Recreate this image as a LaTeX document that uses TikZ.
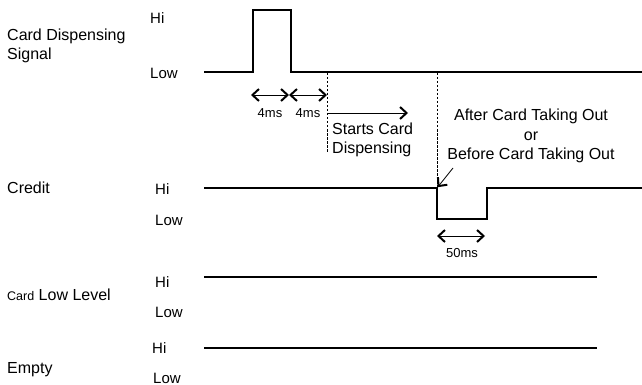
\documentclass[tikz,border=0pt]{standalone}
\usepackage{fontspec}
\setmainfont{Liberation Sans}
\usetikzlibrary{arrows.meta,positioning}
\tikzset{
  wave/.style={line width=1.5pt},
  guide/.style={line width=0.8pt, dash pattern=on 2.5pt off 1.5pt},
  span/.style={line width=0.8pt,
    {Straight Barb[length=6.5pt,width=12pt,line width=2pt]}-{Straight Barb[length=6.5pt,width=12pt,line width=2pt]}},
  push/.style={line width=0.8pt, -{Straight Barb[length=6.5pt,width=12pt,line width=2pt]}},
  signame/.style={anchor=west, inner sep=0pt, align=left, font=\fontsize{16}{18.5}\selectfont},
  lvl/.style={anchor=west, inner sep=0pt, font=\fontsize{15}{17}\selectfont},
  note/.style={inner sep=0pt, font=\fontsize{16}{19.5}\selectfont},
  tlabel/.style={inner sep=0pt, font=\fontsize{13}{15}\selectfont},
}
\begin{document}
\begin{tikzpicture}[x=1pt,y=-1pt]
    \useasboundingbox (0,0) rectangle (642,385);

    % signal names
    \node[signame] (cdname) at (7,46) {Card Dispensing\\Signal};
    \node[signame] (crname) at (7,188) {Credit};
    \node[signame] (clname) at (7,295) {{\fontsize{12.5}{14}\selectfont Card} Low Level};
    \node[signame] (emname) at (7,370) {Empty};

    % levels
    \node[lvl] (cdhi) at (150,18) {Hi};
    \node[lvl] (cdlo) at (150,73) {Low};
    \node[lvl] (crhi) at (155,189) {Hi};
    \node[lvl] (crlo) at (155,220) {Low};
    \node[lvl] (clhi) at (155,282) {Hi};
    \node[lvl] (cllo) at (155,312) {Low};
    \node[lvl] (emhi) at (152,348) {Hi};
    \node[lvl] (emlo) at (153,378) {Low};

    % card dispensing signal
    \coordinate (cd0) at (204,72);
    \coordinate (cdR) at (253,72);
    \coordinate (cdRt) at (253,10);
    \coordinate (cdFt) at (291,10);
    \coordinate (cdF) at (291,72);
    \coordinate (cdE) at (642,72);
    \draw[wave] (cd0) -- (cdR) -- (cdRt) -- (cdFt) -- (cdF) -- (cdE);

    % credit
    \coordinate (cr0) at (204,188);
    \coordinate (crF) at (437,188);
    \coordinate (crFl) at (437,219);
    \coordinate (crRl) at (487,219);
    \coordinate (crR) at (487,188);
    \coordinate (crE) at (642,188);
    \draw[wave] (cr0) -- (crF) -- (crFl) -- (crRl) -- (crR) -- (crE);

    % card low level and empty
    \coordinate (cl0) at (204,277);
    \coordinate (clE) at (597,277);
    \draw[wave] (cl0) -- (clE);
    \coordinate (em0) at (204,348);
    \coordinate (emE) at (597,348);
    \draw[wave] (em0) -- (emE);

    % guides
    \coordinate (g1t) at (327,73);
    \coordinate (g1b) at (327,152);
    \draw[guide] (g1t) -- (g1b);
    \coordinate (g2t) at (437,73);
    \draw[guide] (g2t) -- (crF);

    % 4ms spans
    \coordinate (s0) at (251,95);
    \coordinate (s1) at (289,95);
    \coordinate (s2) at (327,95);
    \draw[span] (s0) -- (s1);
    \draw[span] (s1) -- (s2);
    \node[tlabel] (ms4a) at (270,113) {4ms};
    \node[tlabel] (ms4b) at (308,113) {4ms};

    % starts card dispensing
    \coordinate (st0) at (327,113);
    \coordinate (st1) at (408,113);
    \draw[push] (st0) -- (st1);
    \node[note, anchor=west, align=left] (starts) at (332,140) {Starts Card\\Dispensing};

    % taking out
    \node[note, align=center] (taking) at (531,136) {After Card Taking Out\\or\\Before Card Taking Out};
    \coordinate (pt0) at (453,168);
    \draw[push, shorten >=1pt] (pt0) -- (crF);

    % 50ms span
    \coordinate (w0) at (437,236);
    \coordinate (w1) at (485,236);
    \draw[span] (w0) -- (w1);
    \node[tlabel] (ms50) at (462,253) {50ms};
\end{tikzpicture}
\end{document}
